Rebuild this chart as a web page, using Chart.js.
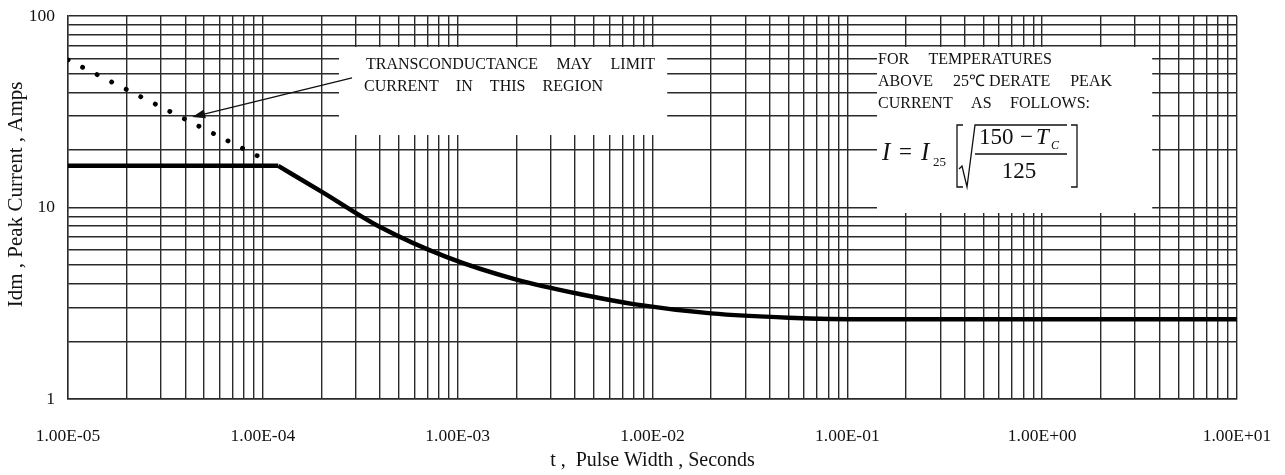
<!DOCTYPE html>
<html>
<head>
<meta charset="utf-8">
<script src="https://cdn.jsdelivr.net/npm/chart.js@4.4.0/dist/chart.umd.min.js"></script>
<style>
  html, body { margin: 0; padding: 0; background: #fff; }
  #wrap { width: 1285px; height: 475px; position: relative; }
</style>
</head>
<body>
<div id="wrap"><canvas id="pulseChart"></canvas></div>
<script>
// Idm vs pulse width (solid curve), plateau ends at index 1
const pulseWidth = [1e-5, 1.2e-4, 2e-4, 4e-4, 8.8e-4, 2e-3, 4.4e-3, 8e-3, 2e-2, 5e-2, 1.3e-1, 10];
const peakCurrent = [16.5, 16.5, 12.1, 7.9, 5.5, 4.2, 3.5, 3.13, 2.8, 2.66, 2.61, 2.61];
const kneeIndex = 1;

// transconductance limit (dotted)
const limitWidth = [1e-5, 1e-4];
const limitCurrent = [59, 18];

// axis ticks
const xTickValues = [1e-5, 1e-4, 1e-3, 1e-2, 1e-1, 1, 10];
const xTickLabels = ['1.00E-05', '1.00E-04', '1.00E-03', '1.00E-02', '1.00E-01', '1.00E+00', '1.00E+01'];
const yTickValues = [1, 10, 100];
const yTickLabels = ['1', '10', '100'];

const serif = '"Liberation Serif", "Times New Roman", serif';
const ink = '#111';
const gridColor = '#2a2a2a';

// gridlines at 1..9 of every decade
function logGrid(values) {
    const out = [];
    for (let i = 0; i < values.length - 1; i++) {
        for (let k = 1; k <= 9; k++) out.push(values[i] * k);
    }
    out.push(values[values.length - 1]);
    return out.map(v => ({ value: v }));
}

function labelFor(values, labels, v) {
    const i = values.findIndex(t => Math.abs(Math.log10(t) - Math.log10(v)) < 1e-6);
    return i >= 0 ? labels[i] : '';
}

function points(xs, ys) {
    return xs.map((t, i) => ({ x: t, y: ys[i] }));
}

function justify(ctx, words, x0, x1, y) {
    const widths = words.map(w => ctx.measureText(w).width);
    const total = widths.reduce((a, b) => a + b, 0);
    const gap = words.length > 1 ? (x1 - x0 - total) / (words.length - 1) : 0;
    let x = x0;
    words.forEach((w, i) => {
        ctx.fillText(w, x, y);
        x += widths[i] + gap;
    });
}

const notes = {
    id: 'notes',
    boxes(chart) {
        const sx = chart.scales.x, sy = chart.scales.y;
        const b1 = { l: sx.getPixelForValue(2.46e-4), r: sx.getPixelForValue(1.19e-2), t: sy.getPixelForValue(68.9), b: sy.getPixelForValue(23.9) };
        const b2 = { l: sx.getPixelForValue(0.142), r: sx.getPixelForValue(3.67), t: sy.getPixelForValue(68.9), b: sy.getPixelForValue(9.36) };
        return [b1, b2];
    },
    beforeDatasetsDraw(chart) {
        const ctx = chart.ctx;
        ctx.save();
        ctx.fillStyle = '#fff';
        this.boxes(chart).forEach(b => ctx.fillRect(b.l, b.t, b.r - b.l, b.b - b.t));
        ctx.restore();
    },
    afterDatasetsDraw(chart) {
        const ctx = chart.ctx;
        const sx = chart.scales.x, sy = chart.scales.y;
        const [b1, b2] = this.boxes(chart);
        ctx.save();

        // arrow pointing at the dotted line
        const tx = sx.getPixelForValue(4.34e-5), ty = sy.getPixelForValue(29.7);
        const fx = sx.getPixelForValue(2.87e-4), fy = sy.getPixelForValue(47.5);
        const ang = Math.atan2(ty - fy, tx - fx);
        ctx.strokeStyle = ink;
        ctx.fillStyle = ink;
        ctx.lineWidth = 1.4;
        ctx.beginPath();
        ctx.moveTo(fx, fy);
        ctx.lineTo(tx - Math.cos(ang) * 8, ty - Math.sin(ang) * 8);
        ctx.stroke();
        ctx.beginPath();
        ctx.moveTo(tx, ty);
        ctx.lineTo(tx - Math.cos(ang) * 13 + Math.sin(ang) * 4.5, ty - Math.sin(ang) * 13 - Math.cos(ang) * 4.5);
        ctx.lineTo(tx - Math.cos(ang) * 13 - Math.sin(ang) * 4.5, ty - Math.sin(ang) * 13 + Math.cos(ang) * 4.5);
        ctx.closePath();
        ctx.fill();

        // note 1
        ctx.font = '16px ' + serif;
        ctx.textBaseline = 'middle';
        ctx.textAlign = 'left';
        justify(ctx, ['TRANSCONDUCTANCE', 'MAY', 'LIMIT'], b1.l + 27, b1.l + 316, b1.t + 18);
        justify(ctx, ['CURRENT', 'IN', 'THIS', 'REGION'], b1.l + 25, b1.l + 264, b1.t + 40);

        // note 2
        justify(ctx, ['FOR', 'TEMPERATURES'], b2.l + 1, b2.l + 175, b2.t + 13);
        justify(ctx, ['ABOVE', '25\u2103 DERATE', 'PEAK'], b2.l + 1, b2.l + 235, b2.t + 35);
        justify(ctx, ['CURRENT', 'AS', 'FOLLOWS:'], b2.l + 1, b2.l + 213, b2.t + 57);

        // derating formula
        const L = b2.l, T = b2.t;
        ctx.font = 'italic 25px ' + serif;
        ctx.fillText('I', L + 5, T + 106);
        ctx.font = '23px ' + serif;
        ctx.fillText('=', L + 22, T + 106);
        ctx.font = 'italic 25px ' + serif;
        ctx.fillText('I', L + 44, T + 106);
        ctx.font = '13px ' + serif;
        ctx.fillText('25', L + 56, T + 116);

        ctx.lineWidth = 1.3;
        ctx.beginPath();
        // left bracket
        ctx.moveTo(L + 86, T + 78); ctx.lineTo(L + 80, T + 78);
        ctx.lineTo(L + 80, T + 140); ctx.lineTo(L + 86, T + 140);
        // right bracket
        ctx.moveTo(L + 194, T + 78); ctx.lineTo(L + 200, T + 78);
        ctx.lineTo(L + 200, T + 140); ctx.lineTo(L + 194, T + 140);
        ctx.stroke();

        // radical sign
        ctx.beginPath();
        ctx.moveTo(L + 82, T + 122);
        ctx.lineTo(L + 85, T + 119);
        ctx.lineTo(L + 90, T + 140);
        ctx.lineTo(L + 98, T + 78);
        ctx.lineTo(L + 190, T + 78);
        ctx.stroke();
        // fraction bar
        ctx.beginPath();
        ctx.moveTo(L + 98, T + 107);
        ctx.lineTo(L + 190, T + 107);
        ctx.stroke();

        ctx.font = '23px ' + serif;
        ctx.fillText('150', L + 102, T + 91);
        ctx.fillText('\u2212', L + 143, T + 91);
        ctx.font = 'italic 23px ' + serif;
        ctx.fillText('T', L + 159, T + 91);
        ctx.font = 'italic 12px ' + serif;
        ctx.fillText('C', L + 174, T + 99);
        ctx.font = '23px ' + serif;
        ctx.textAlign = 'center';
        ctx.fillText('125', L + 142, T + 125);

        ctx.restore();
    }
};

const solidLine = {
    borderColor: '#000',
    borderWidth: 4.5,
    pointRadius: 0,
    borderJoinStyle: 'round',
    fill: false
};

new Chart(document.getElementById('pulseChart'), {
    type: 'line',
    data: {
        datasets: [
            Object.assign({
                label: 'Idm plateau',
                data: points(pulseWidth.slice(0, kneeIndex + 1), peakCurrent.slice(0, kneeIndex + 1)),
                tension: 0
            }, solidLine),
            Object.assign({
                label: 'Idm',
                data: points(pulseWidth.slice(kneeIndex), peakCurrent.slice(kneeIndex)),
                cubicInterpolationMode: 'monotone'
            }, solidLine),
            {
                label: 'Transconductance limit',
                data: points(limitWidth, limitCurrent),
                borderColor: '#000',
                borderWidth: 4.8,
                borderDash: [0.1, 16.2],
                borderCapStyle: 'round',
                pointRadius: 0,
                tension: 0,
                fill: false
            }
        ]
    },
    options: {
        responsive: true,
        maintainAspectRatio: false,
        animation: false,
        layout: { padding: { top: 16, right: 48, left: 0, bottom: 0 } },
        plugins: {
            legend: { display: false },
            tooltip: { enabled: false }
        },
        scales: {
            x: {
                type: 'logarithmic',
                min: 1e-5,
                max: 10,
                afterBuildTicks: s => { s.ticks = logGrid(xTickValues); },
                afterFit: s => { s.height = 76; },
                grid: { color: gridColor, lineWidth: 1.4, drawTicks: true, tickLength: 27, tickColor: 'rgba(0,0,0,0)' },
                border: { display: true, color: gridColor, width: 1.4 },
                ticks: {
                    autoSkip: false,
                    maxRotation: 0,
                    padding: 0,
                    color: ink,
                    font: { family: serif, size: 17.5 },
                    callback: v => labelFor(xTickValues, xTickLabels, v)
                },
                title: {
                    display: true,
                    text: 't ,  Pulse Width , Seconds',
                    color: ink,
                    font: { family: serif, size: 20 },
                    padding: { top: 0, bottom: 2 }
                }
            },
            y: {
                type: 'logarithmic',
                min: 1,
                max: 100,
                afterBuildTicks: s => { s.ticks = logGrid(yTickValues); },
                afterFit: s => { s.width = 68; },
                grid: { color: gridColor, lineWidth: 1.4, drawTicks: true, tickLength: 13, tickColor: 'rgba(0,0,0,0)' },
                border: { display: true, color: gridColor, width: 1.4 },
                ticks: {
                    autoSkip: false,
                    padding: 0,
                    color: ink,
                    font: { family: serif, size: 17.5 },
                    callback: v => labelFor(yTickValues, yTickLabels, v)
                },
                title: {
                    display: true,
                    text: '     Idm , Peak Current , Amps',
                    color: ink,
                    font: { family: serif, size: 21 },
                    padding: { top: 4, bottom: 0 }
                }
            }
        }
    },
    plugins: [notes]
});
</script>
</body>
</html>
